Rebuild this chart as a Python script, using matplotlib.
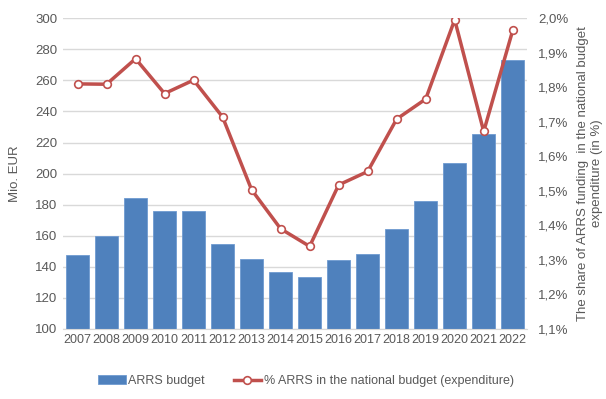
import matplotlib.pyplot as plt
from matplotlib.ticker import FuncFormatter
import numpy as np

years = ["2007", "2008", "2009", "2010", "2011", "2012", "2013", "2014",
         "2015", "2016", "2017", "2018", "2019", "2020", "2021", "2022"]
budget = [147.5, 159.8, 184.2, 176.0, 175.7, 154.8, 144.8, 136.6,
          133.2, 144.3, 148.0, 164.1, 182.6, 206.7, 225.4, 273.4]
share = [1.810, 1.809, 1.883, 1.782, 1.821, 1.714, 1.503, 1.390,
         1.339, 1.517, 1.556, 1.708, 1.766, 1.996, 1.672, 1.965]

plt.rcParams['font.family'] = ['Liberation Sans', 'DejaVu Sans']
grey = "#595959"
bar_col = "#4F81BD"
line_col = "#C0504D"

fig = plt.figure(figsize=(6.06, 3.99), dpi=100)
ax = fig.add_axes([0.104, 0.176, 0.766, 0.778])
x = np.arange(len(years))

bars = ax.bar(x, budget, width=0.78, color=bar_col, edgecolor="#6F9AD0",
              linewidth=0.6, zorder=2, label="ARRS budget")
ax.set_ylim(100, 300)
ax.set_yticks(np.arange(100, 301, 20))
ax.set_xlim(-0.5, len(years) - 0.5)
ax.set_xticks(x)
ax.set_xticklabels(years)
ax.grid(axis="y", color="#D9D9D9", linewidth=1, zorder=0)
ax.set_axisbelow(True)
for s in ["top", "left", "right"]:
    ax.spines[s].set_visible(False)
ax.spines["bottom"].set_color("#D9D9D9")
ax.tick_params(axis="both", length=0, labelsize=9, colors=grey, pad=4)
ax.tick_params(axis="y", labelsize=9.5)
ax.set_ylabel("Mio. EUR", color=grey, fontsize=9.5, labelpad=10)

ax2 = ax.twinx()
ln, = ax2.plot(x, share, color=line_col, linewidth=2.5, marker="o",
               markersize=5.5, markerfacecolor="white", markeredgecolor=line_col,
               markeredgewidth=1.2, zorder=3,
               label="% ARRS in the national budget (expenditure)")
ax2.set_ylim(1.1, 2.0)
ax2.set_yticks(np.arange(1.1, 2.01, 0.1))
ax2.yaxis.set_major_formatter(FuncFormatter(lambda v, p: f"{v:.1f}%".replace(".", ",")))
for s in ["top", "left", "right", "bottom"]:
    ax2.spines[s].set_visible(False)
ax2.tick_params(axis="y", length=0, labelsize=9.5, colors=grey, pad=8)
ax2.set_ylabel("The share of ARRS funding  in the national budget\nexpenditure (in %)",
               color=grey, fontsize=9.5, labelpad=6)

fig.legend([bars, ln], ["ARRS budget", "% ARRS in the national budget (expenditure)"],
           loc="center", bbox_to_anchor=(0.505, 0.045), ncol=2, frameon=False,
           fontsize=9, labelcolor=grey, handlelength=2.2, columnspacing=2.3,
           handletextpad=0.2)

plt.savefig("out.png", dpi=100)
plt.close()
